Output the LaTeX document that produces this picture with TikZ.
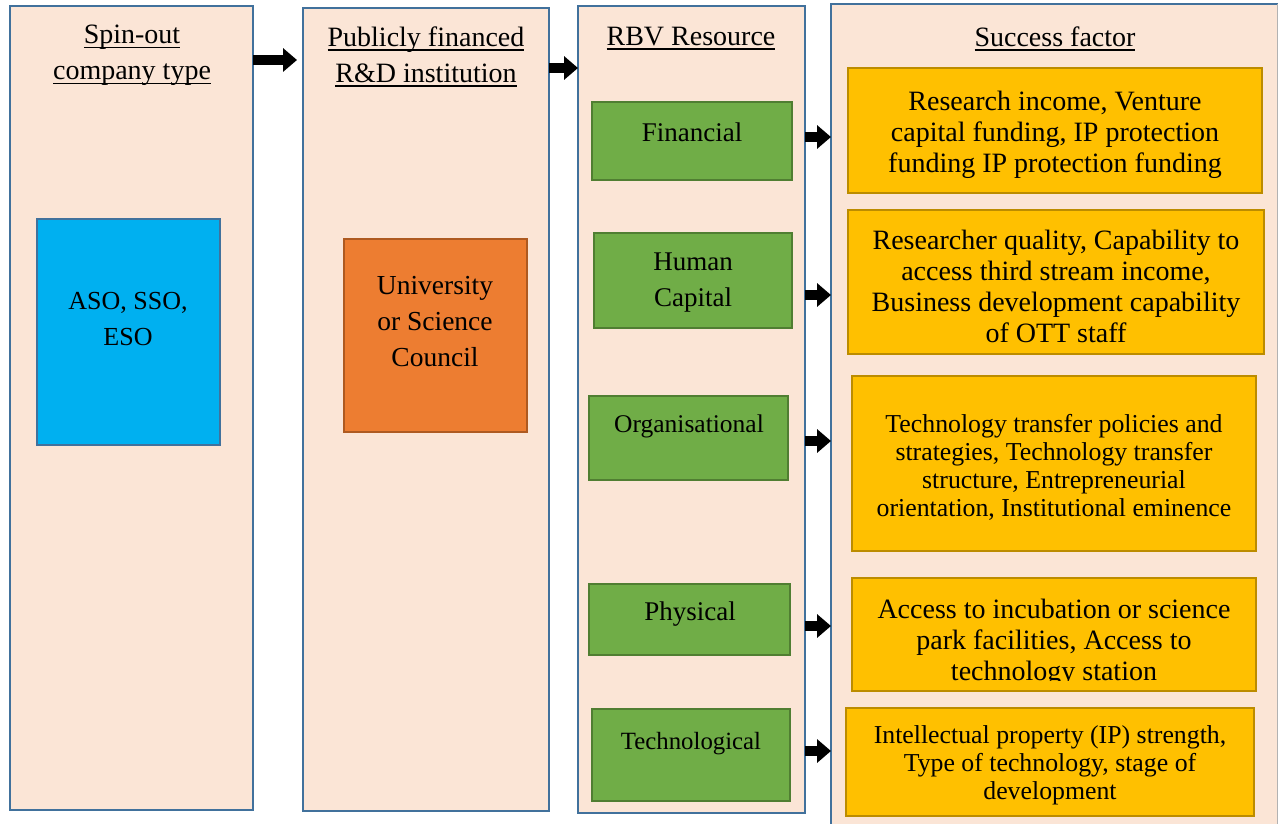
\documentclass[tikz,border=0pt]{standalone}
\usepackage{fontspec}
\setmainfont{Liberation Serif}
\usetikzlibrary{arrows.meta}

\definecolor{panelfill}{HTML}{FBE5D6}
\definecolor{panelline}{HTML}{41719C}
\definecolor{bluefill}{HTML}{00B0F0}
\definecolor{blueline}{HTML}{41719C}
\definecolor{orangefill}{HTML}{ED7D31}
\definecolor{orangeline}{HTML}{AE5A21}
\definecolor{greenfill}{HTML}{70AD47}
\definecolor{greenline}{HTML}{507E32}
\definecolor{goldfill}{HTML}{FFC000}
\definecolor{goldline}{HTML}{BC8C00}

\tikzset{
  box/.style={draw, rectangle, inner sep=0pt, outer sep=0pt},
  panel/.style={box, fill=panelfill, draw=panelline, line width=2.8pt},
  bluebox/.style={box, fill=bluefill, draw=blueline, line width=2.4pt},
  orangebox/.style={box, fill=orangefill, draw=orangeline, line width=2.4pt},
  greenbox/.style={box, fill=greenfill, draw=greenline, line width=2.4pt},
  goldbox/.style={box, fill=goldfill, draw=goldline, line width=2.4pt},
  txt/.style={align=center, inner sep=0pt, text=black},
  head/.style={txt, font=\fontsize{28}{36}\selectfont},
  bigtxt/.style={txt, font=\fontsize{28}{31}\selectfont},
  smalltxt/.style={txt, font=\fontsize{25.8}{28}\selectfont},
  blk/.style={line width=10pt, -{Triangle[length=14pt,width=23pt]}, black},
}

% heading underline: a heavier rule set a little below the baseline
\newcommand{\uline}[1]{\setbox0\hbox{#1}\leavevmode\rlap{\rule[-4.5pt]{\wd0}{1.6pt}}\box0}

% rectangle given by its pixel corners (x1,y1) (x2,y2)
\newcommand{\pbox}[6]{%
  \node[#1, minimum width=#5-#3, minimum height=#6-#4]
    (#2) at ({(#3+#5)/2},{(#4+#6)/2}) {};}

\begin{document}
\begin{tikzpicture}[x=1pt, y=-1pt]
\useasboundingbox (0,0) rectangle (1278,824);
\fill[white] (0,0) rectangle (1278,824);
\clip (0,0) rectangle (1278,824);

% four column panels
\pbox{panel}{p1}{10}{6}{253}{810}
\pbox{panel}{p2}{303}{8}{549}{811}
\pbox{panel}{p3}{578}{6}{805}{813}
\pbox{panel}{p4}{831}{4}{1300}{840}
\draw[gray!60, line width=1pt] (1277.5,4) -- (1277.5,824);

% headings
\node[head] (h1) at (132,55.5) {\uline{Spin-out}\\\uline{company type}};
\node[head] (h2) at (426,56.5) {\uline{Publicly financed}\\\uline{R\&D institution}};
\node[head] (h3) at (691,38.5) {\uline{RBV Resource}};
\node[head] (h4) at (1055,38.5) {\uline{Success factor}};

% column 1 and 2 contents
\pbox{bluebox}{aso}{37}{219}{220}{445}
\node[txt, font=\fontsize{26}{36}\selectfont] (asot) at (128,319) {ASO, SSO,\\ESO};
\pbox{orangebox}{uni}{344}{239}{527}{432}
\node[txt, font=\fontsize{27.5}{36}\selectfont] (unit) at (435,322) {University\\or Science\\Council};

% resource types
\pbox{greenbox}{g1}{592}{102}{792}{180}
\pbox{greenbox}{g2}{594}{233}{792}{328}
\pbox{greenbox}{g3}{589}{396}{788}{480}
\pbox{greenbox}{g4}{589}{584}{790}{655}
\pbox{greenbox}{g5}{592}{709}{790}{801}
\node[txt, font=\fontsize{27}{36}\selectfont] (g1t) at (692,132) {Financial};
\node[txt, font=\fontsize{27}{36}\selectfont] (g2t) at (693,283) {Human\\Capital};
\node[txt, font=\fontsize{25.5}{36}\selectfont] (g3t) at (689,426) {Organisational};
\node[txt, font=\fontsize{27}{36}\selectfont] (g4t) at (690,614) {Physical};
\node[txt, font=\fontsize{24.8}{36}\selectfont] (g5t) at (691,744) {Technological};

% success factors
\pbox{goldbox}{s1}{848}{68}{1262}{193}
\pbox{goldbox}{s2}{848}{210}{1264}{354}
\pbox{goldbox}{s3}{852}{376}{1256}{551}
\pbox{goldbox}{s4}{852}{578}{1256}{691}
\pbox{goldbox}{s5}{846}{708}{1254}{816}
\node[bigtxt] (s1t) at (1055,135) {Research income, Venture\\capital funding, IP protection\\funding IP protection funding};
\node[bigtxt] (s2t) at (1056,286) {Researcher quality, Capability to\\access third stream income,\\Business development capability\\of OTT staff};
\node[smalltxt] (s3t) at (1054,467) {Technology transfer policies and\\strategies, Technology transfer\\structure, Entrepreneurial\\orientation, Institutional eminence};
\begin{scope}
  \clip (852,578) rectangle (1256,680);
  \node[bigtxt] (s4t) at (1054,643) {Access to incubation or science\\park facilities, Access to\\technology station};
\end{scope}
\node[smalltxt] (s5t) at (1050,765.5) {Intellectual property (IP) strength,\\Type of technology, stage of\\development};

% block arrows between the columns
\draw[blk] (p1.east |- 0,60) -- (297,60);
\draw[blk] (p2.east |- 0,68) -- (p3.west |- 0,68);
\draw[blk] (p3.east |- 0,137) -- (p4.west |- 0,137);
\draw[blk] (p3.east |- 0,295) -- (p4.west |- 0,295);
\draw[blk] (p3.east |- 0,441) -- (p4.west |- 0,441);
\draw[blk] (p3.east |- 0,626) -- (p4.west |- 0,626);
\draw[blk] (p3.east |- 0,751) -- (p4.west |- 0,751);
\end{tikzpicture}
\end{document}
